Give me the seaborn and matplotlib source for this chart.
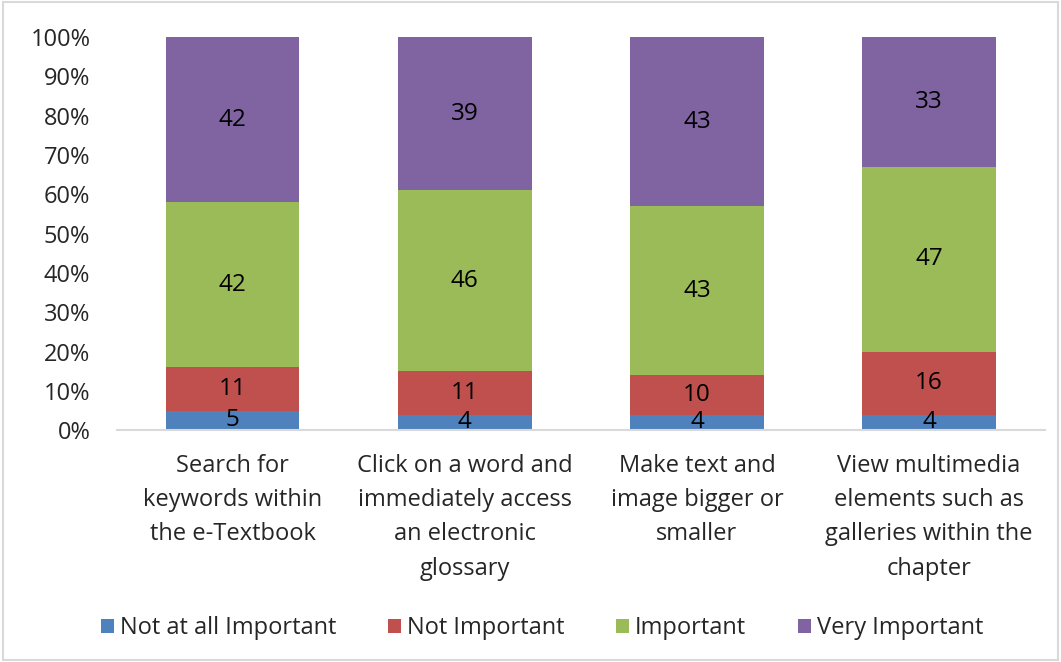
import matplotlib
matplotlib.use('Agg')
import matplotlib.pyplot as plt
import pandas as pd
import seaborn as sb
from matplotlib.patches import Rectangle

categories = ['Search for\nkeywords within\nthe e-Textbook',
              'Click on a word and\nimmediately access\nan electronic\nglossary',
              'Make text and\nimage bigger or\nsmaller',
              'View multimedia\nelements such as\ngalleries within the\nchapter']
not_at_all = [5, 4, 4, 4]
not_important = [11, 11, 10, 16]
important = [42, 46, 43, 47]
very_important = [42, 39, 43, 33]

series = ['Not at all Important', 'Not Important', 'Important', 'Very Important']
colors = ['#4F81BD', '#C0504D', '#9BBB59', '#8064A2']

df = pd.DataFrame({'cat': categories,
                   'Not at all Important': not_at_all,
                   'Not Important': not_important,
                   'Important': important,
                   'Very Important': very_important})
totals = df[series].sum(axis=1)

sb.set_style('white')
plt.rcParams['font.family'] = ['Open Sans', 'DejaVu Sans']

fig = plt.figure(figsize=(10.61, 6.62), dpi=100)
ax = fig.add_axes([0.110, 0.350, 0.875, 0.594])

bottom = pd.Series([0.0] * len(df))
for name, col in zip(series, colors):
    pct = df[name] / totals * 100
    sb.barplot(x=df['cat'], y=pct, bottom=bottom, color=col, width=0.575,
               ax=ax, label=name, saturation=1, order=categories, linewidth=0)
    for i, (b, p, v) in enumerate(zip(bottom, pct, df[name])):
        ax.text(i, b + p / 2, str(v), ha='center', va='center', fontsize=17.5, color='black')
    bottom = bottom + pct

ax.set_ylim(0, 100)
ax.set_xlim(-0.5, 3.5)
ax.set_yticks(range(0, 101, 10))
ax.set_yticklabels([f'{t}%' for t in range(0, 101, 10)], fontsize=17)
ax.set_xticks(range(4))
ax.set_xticklabels(categories, fontsize=17, linespacing=1.57)
ax.tick_params(axis='x', length=0, pad=17)
ax.tick_params(axis='y', length=0, pad=19)
ax.set_xlabel('')
ax.set_ylabel('')
for s in ['top', 'right', 'left']:
    ax.spines[s].set_visible(False)
ax.spines['bottom'].set_color('#D9D9D9')
ax.spines['bottom'].set_linewidth(1.5)

handles, labels = ax.get_legend_handles_labels()
fig.legend(handles, labels, loc='center', bbox_to_anchor=(0.511, 0.051), ncol=4,
           frameon=False, fontsize=17, handlelength=0.55, handleheight=0.55,
           handletextpad=0.25, columnspacing=2.2)
if ax.get_legend():
    ax.get_legend().remove()

fig.patches.append(Rectangle((0.003, 0.003), 0.994, 0.994, transform=fig.transFigure,
                             fill=False, edgecolor='#D9D9D9', linewidth=1.5))

fig.savefig('out.png', dpi=100)
